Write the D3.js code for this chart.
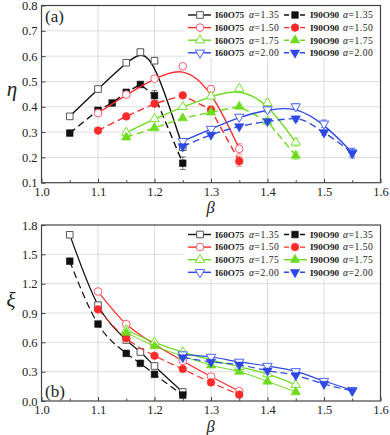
<!DOCTYPE html>
<html><head><meta charset="utf-8">
<script src="https://cdn.jsdelivr.net/npm/d3@7"></script>
<style>body{margin:0;background:#fff}svg{display:block}</style>
</head><body>
<script>
// ---------- data ----------
const xTicks = [1.0, 1.1, 1.2, 1.3, 1.4, 1.5, 1.6];
const etaTicks = [0.1, 0.2, 0.3, 0.4, 0.5, 0.6, 0.7, 0.8];
const xiTicks = [0.0, 0.3, 0.6, 0.9, 1.2, 1.5, 1.8];
const groupLabels = ["I60O75", "I90O90"];
const alphaLabels = ["1.35", "1.50", "1.75", "2.00"];
const seriesColors = ["#111111", "#ff2b2b", "#6ddc1c", "#2d48e6"];
const openColors = ["#555555", "#ff5c6c", "#77e030", "#4a63ee"];

// panel (a): eta
const beta135a = [1.05, 1.10, 1.15, 1.175, 1.20, 1.25];
const eta_I60_135 = [0.362, 0.470, 0.574, 0.616, 0.582, 0.240];
const beta135b = [1.05, 1.10, 1.125, 1.15, 1.175, 1.20, 1.25];
const eta_I90_135 = [0.296, 0.386, 0.415, 0.457, 0.488, 0.444, 0.177];
const err_I90_135 = [0, 0, 0, 0, 0, 0.02, 0.025];
const beta150 = [1.10, 1.15, 1.20, 1.25, 1.30, 1.35];
const eta_I60_150 = [0.375, 0.448, 0.511, 0.560, 0.470, 0.234];
const err_I60_150 = [0, 0, 0, 0, 0.012, 0.02];
const eta_I90_150 = [0.306, 0.362, 0.412, 0.445, 0.388, 0.185];
const err_I90_150 = [0, 0, 0, 0, 0.015, 0.02];
const beta175 = [1.15, 1.20, 1.25, 1.30, 1.35, 1.40, 1.45];
const eta_I60_175 = [0.298, 0.352, 0.400, 0.441, 0.472, 0.415, 0.259];
const err_I60_175 = [0, 0, 0, 0, 0, 0.015, 0.015];
const eta_I90_175 = [0.279, 0.316, 0.355, 0.378, 0.401, 0.342, 0.207];
const err_I90_175 = [0, 0, 0, 0, 0, 0.01, 0.015];
const beta200 = [1.25, 1.30, 1.35, 1.40, 1.45, 1.50, 1.55];
const eta_I60_200 = [0.264, 0.312, 0.360, 0.389, 0.401, 0.333, 0.219];
const err_I60_200 = [0, 0, 0, 0.012, 0.012, 0.015, 0.015];
const eta_I90_200 = [0.243, 0.289, 0.322, 0.342, 0.353, 0.298, 0.217];
const err_I90_200 = [0, 0, 0, 0, 0.01, 0.01, 0.02];

// panel (b): xi
const betaX135 = [1.05, 1.10, 1.15, 1.175, 1.20, 1.25];
const xi_I60_135 = [1.70, 0.98, 0.624, 0.501, 0.358, 0.092];
const xi_I90_135 = [1.43, 0.787, 0.487, 0.385, 0.273, 0.061];
const xi_I60_150 = [1.12, 0.787, 0.58, 0.41, 0.25, 0.10];
const xi_I90_150 = [0.937, 0.641, 0.463, 0.327, 0.19, 0.065];
const xi_I60_175 = [0.726, 0.60, 0.50, 0.42, 0.35, 0.275, 0.167];
const xi_I90_175 = [0.70, 0.562, 0.46, 0.365, 0.30, 0.20, 0.092];
const xi_I60_200 = [0.475, 0.45, 0.40, 0.358, 0.303, 0.204, 0.11];
const xi_I90_200 = [0.445, 0.40, 0.37, 0.31, 0.262, 0.174, 0.102];

// ---------- drawing ----------
const W = 390, H = 435;
const svg = d3.select("body").append("svg").attr("width", W).attr("height", H);
const FONT = "'Liberation Serif','Times New Roman',serif";
const X0 = 41.5, X1 = 380.5;
const shapes = [d3.symbolSquare, d3.symbolCircle, d3.symbolTriangle, d3.symbolTriangle];
const shapeSize = [44, 46, 38, 38];
const shapeRot = [0, 0, 0, 180];

function marker(g, cx, cy, k, filled) {
  const col = filled ? seriesColors[k] : openColors[k];
  g.append("path")
    .attr("d", d3.symbol().type(shapes[k]).size(shapeSize[k])())
    .attr("transform", `translate(${cx},${cy}) rotate(${shapeRot[k]})`)
    .attr("fill", filled ? col : "#fff")
    .attr("stroke", col)
    .attr("stroke-width", filled ? 0.6 : 1);
}

function panel(cfg) {
  const x = d3.scaleLinear().domain([1.0, 1.6]).range([X0, X1]);
  const y = d3.scaleLinear().domain(cfg.ydom).range([cfg.yb, cfg.yt]);
  const g = svg.append("g");
  // grid
  g.selectAll(null).data(xTicks.slice(1, -1)).join("line")
    .attr("x1", d => x(d)).attr("x2", d => x(d)).attr("y1", cfg.yt).attr("y2", cfg.yb)
    .attr("stroke", "#dcdcdc").attr("stroke-width", 1);
  g.selectAll(null).data(cfg.yticks.slice(1, -1)).join("line")
    .attr("y1", d => y(d)).attr("y2", d => y(d)).attr("x1", X0).attr("x2", X1)
    .attr("stroke", "#dcdcdc").attr("stroke-width", 1);
  // legend background
  g.append("rect").attr("x", 185).attr("y", cfg.yt + 1).attr("width", X1 - 186)
    .attr("height", cfg.legH).attr("fill", "#fff");

  // series
  cfg.series.forEach(s => {
    const pts = s.xs.map((b, i) => [x(b), y(s.ys[i]), s.err ? s.err[i] : 0, s.ys[i]]);
    const col = seriesColors[s.k];
    const line = d3.line().curve(s.curve).x(d => d[0]).y(d => d[1]);
    g.append("path").attr("d", line(pts)).attr("fill", "none")
      .attr("stroke", col).attr("stroke-width", s.lw || 1.4)
      .attr("stroke-dasharray", s.dash ? "7,4" : null);
    pts.forEach(p => {
      if (p[2] > 0) {
        const ya = y(p[3] - p[2]), yb2 = y(p[3] + p[2]);
        g.append("line").attr("x1", p[0]).attr("x2", p[0]).attr("y1", ya).attr("y2", yb2)
          .attr("stroke", col).attr("stroke-opacity", 0.55).attr("stroke-width", 1);
        [ya, yb2].forEach(v => g.append("line").attr("x1", p[0] - 3).attr("x2", p[0] + 3)
          .attr("y1", v).attr("y2", v).attr("stroke", col).attr("stroke-opacity", 0.55));
      }
    });
    pts.forEach(p => marker(g, p[0], p[1], s.k, s.filled));
  });

  // legend
  const cols = [{lx: 188, mx: 200, tx: 215, ax: 249}, {lx: 284, mx: 295, tx: 310, ax: 343}];
  alphaLabels.forEach((a, k) => {
    const ry = cfg.yt + 9.5 + k * 12.6;
    [0, 1].forEach(c => {
      const cc = cols[c];
      const filled = c === 1;
      const dash = filled && cfg.legDash[k];
      g.append("line").attr("x1", cc.lx).attr("x2", cc.lx + 23).attr("y1", ry).attr("y2", ry)
        .attr("stroke", seriesColors[k]).attr("stroke-width", 1.4)
        .attr("stroke-dasharray", dash ? "5,3" : null);
      marker(g, cc.mx, ry, k, filled);
      g.append("text").attr("x", cc.tx).attr("y", ry + 3.3)
        .attr("font-family", FONT).attr("font-weight", "bold").attr("font-size", 9.2)
        .attr("fill", "#222").text(groupLabels[c]);
      const t = g.append("text").attr("x", cc.ax).attr("y", ry + 3.3)
        .attr("font-family", FONT).attr("font-size", 9.6).attr("fill", "#222")
        .attr("letter-spacing", 0.5);
      t.append("tspan").attr("font-style", "italic").text("α");
      t.append("tspan").text("=" + a);
    });
  });

  // frame
  g.append("rect").attr("x", X0).attr("y", cfg.yt).attr("width", X1 - X0)
    .attr("height", cfg.yb - cfg.yt).attr("fill", "none").attr("stroke", "#444").attr("stroke-width", 1.2);

  // axes
  const ax = g.append("g").attr("transform", `translate(0,${cfg.yb})`)
    .call(d3.axisBottom(x).tickValues(xTicks).tickFormat(d3.format(".1f"))
      .tickSizeInner(-4).tickSizeOuter(0).tickPadding(4));
  g.append("g").attr("transform", `translate(0,${cfg.yb})`)
    .call(d3.axisBottom(x).tickValues(d3.range(1.05, 1.6, 0.1)).tickFormat("")
      .tickSizeInner(-2.5).tickSizeOuter(0))
    .call(a => a.select(".domain").remove())
    .selectAll("line").attr("stroke", "#444");
  const ay = g.append("g").attr("transform", `translate(${X0},0)`)
    .call(d3.axisLeft(y).tickValues(cfg.yticks).tickFormat(d3.format(".1f"))
      .tickSizeInner(-4).tickSizeOuter(0).tickPadding(4));
  [ax, ay].forEach(a => {
    a.select(".domain").remove();
    a.selectAll("line").attr("stroke", "#444");
    a.selectAll("text").attr("font-family", FONT).attr("font-size", 12.5).attr("fill", "#222");
  });

  // titles
  g.append("text").attr("x", (X0 + X1) / 2 - 0.5).attr("y", cfg.yb + 30.5)
    .attr("text-anchor", "middle").attr("font-family", FONT).attr("font-style", "italic")
    .attr("font-size", 16.5).attr("fill", "#222").text("β");
  g.append("text").attr("x", cfg.tx).attr("y", cfg.ty)
    .attr("text-anchor", "middle").attr("font-family", FONT).attr("font-style", "italic")
    .attr("font-size", 21).attr("fill", "#222").text(cfg.title);
  g.append("text").attr("x", 45).attr("y", cfg.panelY)
    .attr("font-family", FONT).attr("font-size", 17).attr("fill", "#222").text(cfg.panel);
}

panel({
  ydom: [0.1, 0.8], yb: 182.7, yt: 5.5, yticks: etaTicks, legH: 51,
  legDash: [true, true, true, true], title: "η", tx: 12, ty: 96, panel: "(a)", panelY: 22,
  series: [
    {k: 0, filled: false, xs: beta135a, ys: eta_I60_135, curve: d3.curveBasis},
    {k: 0, filled: true, xs: beta135b, ys: eta_I90_135, err: err_I90_135, curve: d3.curveLinear, dash: true},
    {k: 1, filled: false, xs: beta150, ys: eta_I60_150, err: err_I60_150, curve: d3.curveBasis},
    {k: 1, filled: true, xs: beta150, ys: eta_I90_150, err: err_I90_150, curve: d3.curveLinear, dash: true},
    {k: 2, filled: false, xs: beta175, ys: eta_I60_175, err: err_I60_175, curve: d3.curveBasis},
    {k: 2, filled: true, xs: beta175, ys: eta_I90_175, err: err_I90_175, curve: d3.curveLinear, dash: true},
    {k: 3, filled: false, xs: beta200, ys: eta_I60_200, err: err_I60_200, curve: d3.curveBasis},
    {k: 3, filled: true, xs: beta200, ys: eta_I90_200, err: err_I90_200, curve: d3.curveMonotoneX, dash: true}
  ]
});

panel({
  ydom: [0.0, 1.8], yb: 401, yt: 225, yticks: xiTicks, legH: 53,
  legDash: [true, true, false, true], title: "ξ", tx: 11, ty: 307, panel: "(b)", panelY: 397,
  series: [
    {k: 0, filled: false, xs: betaX135, ys: xi_I60_135, curve: d3.curveMonotoneX, lw: 1.2},
    {k: 0, filled: true, xs: betaX135, ys: xi_I90_135, curve: d3.curveMonotoneX, dash: true, lw: 1.2},
    {k: 1, filled: false, xs: beta150, ys: xi_I60_150, curve: d3.curveMonotoneX, lw: 1.2},
    {k: 1, filled: true, xs: beta150, ys: xi_I90_150, curve: d3.curveMonotoneX, dash: true, lw: 1.2},
    {k: 2, filled: false, xs: beta175, ys: xi_I60_175, curve: d3.curveMonotoneX, lw: 1.2},
    {k: 2, filled: true, xs: beta175, ys: xi_I90_175, curve: d3.curveMonotoneX, lw: 1},
    {k: 3, filled: false, xs: beta200, ys: xi_I60_200, curve: d3.curveMonotoneX, lw: 1.2},
    {k: 3, filled: true, xs: beta200, ys: xi_I90_200, curve: d3.curveMonotoneX, dash: true, lw: 1.2}
  ]
});
</script>
</body></html>
